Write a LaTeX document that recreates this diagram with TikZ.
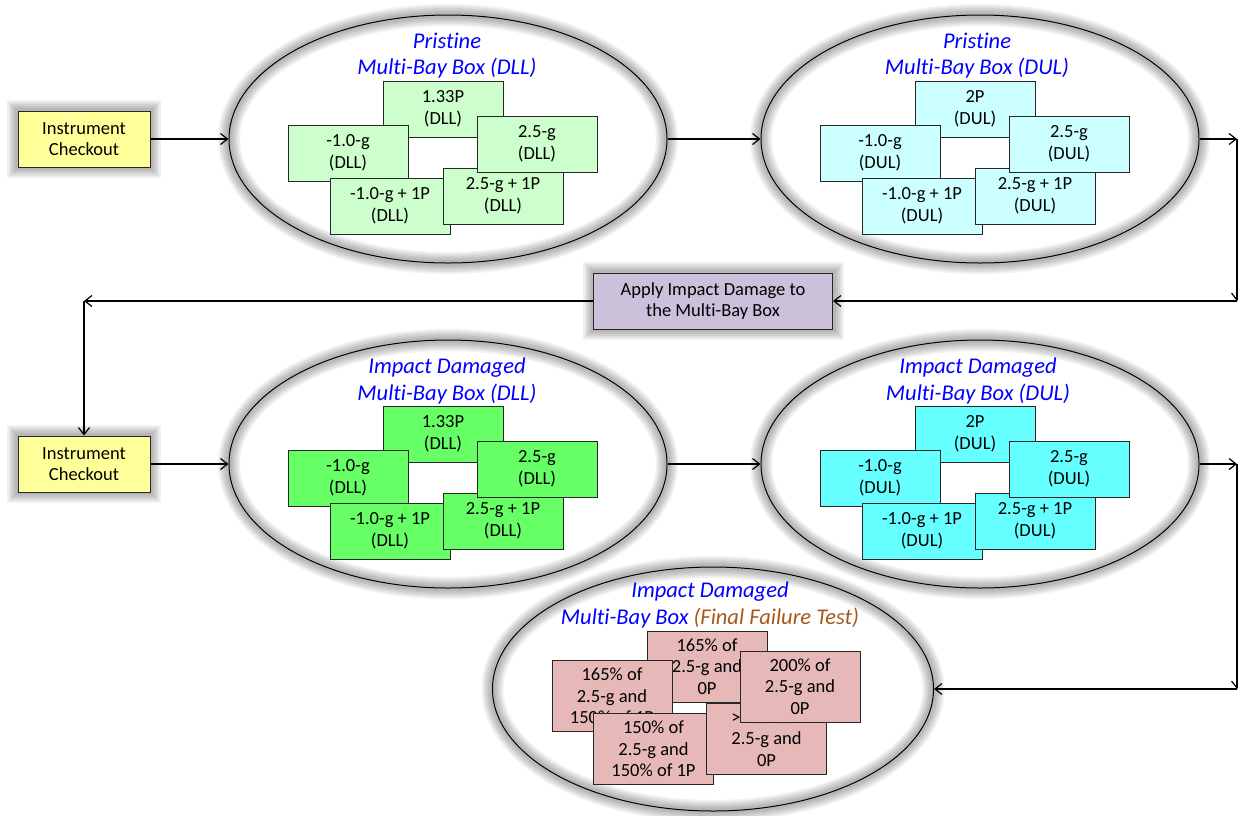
\documentclass[tikz,border=0pt]{standalone}
\usepackage{fontspec}
\setmainfont{Carlito}[Ligatures=NoCommon]
\usepackage{xcolor}
\usetikzlibrary{arrows.meta, shapes.geometric}

\definecolor{dllpale}{HTML}{CCFFCC}
\definecolor{dulpale}{HTML}{CCFFFF}
\definecolor{dllfull}{HTML}{66FF66}
\definecolor{dulfull}{HTML}{66FFFF}
\definecolor{failpink}{HTML}{E6B9B8}
\definecolor{checkyellow}{HTML}{FFFF99}
\definecolor{impactlilac}{HTML}{CCC1DA}
\definecolor{titleblue}{HTML}{0000FF}
\definecolor{failbrown}{RGB}{165,88,25}

\begin{document}
\begin{tikzpicture}[x=1pt, y=-1pt, >={Straight Barb[length=7pt,width=11pt]},
  glow/.style={preaction={draw=black!70, opacity=.08, line width=22pt},
               preaction={draw=black!70, opacity=.1, line width=18pt},
               preaction={draw=black!70, opacity=.1, line width=14pt},
               preaction={draw=black!70, opacity=.1, line width=10pt},
               preaction={draw=black!70, opacity=.1, line width=6pt}},
  bay/.style={ellipse, draw, line width=1pt, inner sep=0pt,
              minimum width=438pt, minimum height=248pt, glow},
  loadbox/.style={draw=black!85, line width=.8pt, inner sep=0pt, align=center,
                  minimum width=120pt, minimum height=56pt,
                  font=\fontsize{18.5}{21.5}\selectfont},
  failbox/.style={loadbox, fill=failpink, minimum height=71pt},
  taskbox/.style={loadbox, line width=1pt, glow},
  baytitle/.style={align=center, text=titleblue,
                   font=\fontsize{22.5}{26.5}\selectfont\itshape},
  conn/.style={->, line width=1.2pt}]
  \useasboundingbox (0,0) rectangle (1238,815);

  % stand-alone steps
  \node[taskbox, fill=checkyellow, minimum width=132pt] (ic1) at (84,139) {Instrument\\Checkout};
  \node[taskbox, fill=checkyellow, minimum width=132pt] (ic2) at (84,464) {Instrument\\Checkout};
  \node[taskbox, fill=impactlilac, minimum width=239pt] (apply) at (713,301) {Apply Impact Damage to\\the Multi-Bay Box};

  % the five multi-bay boxes
  \node[bay] (pdll) at (448,139) {};
  \node[bay] (pdul) at (980,139) {};
  \node[bay] (ddll) at (448,464) {};
  \node[bay] (ddul) at (980,464) {};
  \node[bay, minimum width=441pt, minimum height=244pt] (fail) at (713,689) {};

  \node[baytitle] (pdllT) at (447,55.5) {Pristine\\Multi-Bay Box (DLL)};
  \node[baytitle] (pdulT) at (977,55.5) {Pristine\\Multi-Bay Box (DUL)};
  \node[baytitle] (ddllT) at (447,381) {Impact Damaged\\Multi-Bay Box (DLL)};
  \node[baytitle] (ddulT) at (978,381) {Impact Damaged\\Multi-Bay Box (DUL)};
  \node[baytitle] (failT) at (710,605) {Impact Damaged\\Multi-Bay Box {\color{failbrown}(Final Failure Test)}};

  % pristine DLL
  \node[loadbox, fill=dllpale] (pdllA) at (443,109) {1.33P\\(DLL)};
  \node[loadbox, fill=dllpale] (pdllB) at (348,153) {-1.0-g\\(DLL)};
  \node[loadbox, fill=dllpale] (pdllC) at (390,206) {-1.0-g + 1P\\(DLL)};
  \node[loadbox, fill=dllpale] (pdllD) at (503,196) {2.5-g + 1P\\(DLL)};
  \node[loadbox, fill=dllpale] (pdllE) at (537,144) {2.5-g\\(DLL)};

  % pristine DUL
  \node[loadbox, fill=dulpale] (pdulA) at (975,109) {2P\\(DUL)};
  \node[loadbox, fill=dulpale] (pdulB) at (880,153) {-1.0-g\\(DUL)};
  \node[loadbox, fill=dulpale] (pdulC) at (922,206) {-1.0-g + 1P\\(DUL)};
  \node[loadbox, fill=dulpale] (pdulD) at (1035,196) {2.5-g + 1P\\(DUL)};
  \node[loadbox, fill=dulpale] (pdulE) at (1069,144) {2.5-g\\(DUL)};

  % damaged DLL
  \node[loadbox, fill=dllfull] (ddllA) at (443,434) {1.33P\\(DLL)};
  \node[loadbox, fill=dllfull] (ddllB) at (348,478) {-1.0-g\\(DLL)};
  \node[loadbox, fill=dllfull] (ddllC) at (390,531) {-1.0-g + 1P\\(DLL)};
  \node[loadbox, fill=dllfull] (ddllD) at (503,521) {2.5-g + 1P\\(DLL)};
  \node[loadbox, fill=dllfull] (ddllE) at (537,469) {2.5-g\\(DLL)};

  % damaged DUL
  \node[loadbox, fill=dulfull] (ddulA) at (975,434) {2P\\(DUL)};
  \node[loadbox, fill=dulfull] (ddulB) at (880,478) {-1.0-g\\(DUL)};
  \node[loadbox, fill=dulfull] (ddulC) at (922,531) {-1.0-g + 1P\\(DUL)};
  \node[loadbox, fill=dulfull] (ddulD) at (1035,521) {2.5-g + 1P\\(DUL)};
  \node[loadbox, fill=dulfull] (ddulE) at (1069,469) {2.5-g\\(DUL)};

  % final failure
  \node[failbox] (failA) at (707,666.5) {165\% of\\2.5-g and\\0P};
  \node[failbox] (failB) at (612,696) {165\% of\\2.5-g and\\150\% of 1P};
  \node[failbox] (failC) at (653.5,749) {150\% of\\2.5-g and\\150\% of 1P};
  \node[failbox] (failD) at (766.5,738.5) {>200\% of\\2.5-g and\\0P};
  \node[failbox] (failE) at (800,686.5) {200\% of\\2.5-g and\\0P};

  % flow
  \coordinate (r1) at (1237,139);
  \coordinate (r2) at (1237,301);
  \coordinate (l1) at (84,301);
  \coordinate (r3) at (1237,464);
  \coordinate (r4) at (1237,689);
  \draw[conn] (ic1.east) -- (pdll.west);
  \draw[conn] (pdll.east) -- (pdul.west);
  \draw[conn] (pdul.east) -- (r1);
  \draw[conn] (r1) -- (r2);
  \draw[conn] (r2) -- (apply.east);
  \draw[conn] (apply.west) -- (l1);
  \draw[conn] (l1) -- (ic2.north);
  \draw[conn] (ic2.east) -- (ddll.west);
  \draw[conn] (ddll.east) -- (ddul.west);
  \draw[conn] (ddul.east) -- (r3);
  \draw[conn] (r3) -- (r4);
  \draw[conn] (r4) -- (fail.east);
\end{tikzpicture}
\end{document}
